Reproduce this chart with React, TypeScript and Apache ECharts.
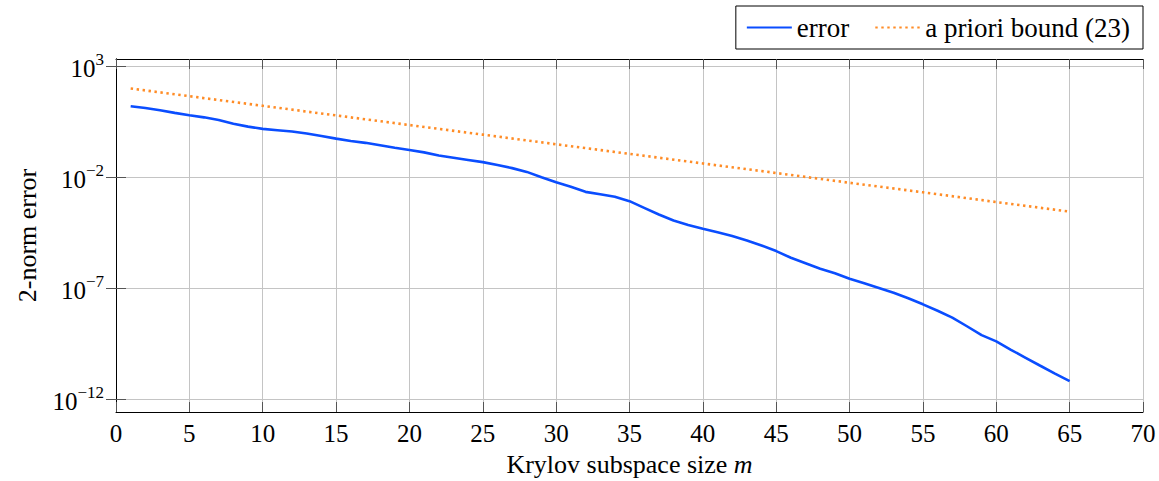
import React, { useEffect, useRef } from "react";
import * as echarts from "echarts";

// Krylov subspace size m
const errorM = [
  1, 2, 3, 4, 5, 6, 7, 8, 9, 10, 11, 12, 13, 14, 15, 16, 17, 18, 19, 20, 21, 22,
  23, 24, 25, 26, 27, 28, 29, 30, 31, 32, 33, 34, 35, 36, 37, 38, 39, 40, 41, 42,
  43, 44, 45, 46, 47, 48, 49, 50, 51, 52, 53, 54, 55, 56, 57, 58, 59, 60, 61, 62,
  63, 64, 65,
];
// 2-norm error
const errorValues = [
  15.8, 13.2, 10.5, 7.94, 6.17, 5.01, 3.8, 2.57, 1.91, 1.51, 1.32, 1.15, 0.933,
  0.724, 0.55, 0.427, 0.355, 0.275, 0.214, 0.17, 0.132, 0.0955, 0.0759, 0.0603,
  0.0479, 0.0355, 0.0257, 0.0174, 0.01, 5.89e-3, 3.72e-3, 2.19e-3, 1.7e-3,
  1.32e-3, 8.32e-4, 4.17e-4, 2.09e-4, 1.12e-4, 7.08e-5, 4.79e-5, 3.31e-5,
  2.24e-5, 1.41e-5, 8.32e-6, 4.68e-6, 2.34e-6, 1.32e-6, 7.41e-7, 4.68e-7,
  2.63e-7, 1.66e-7, 1.02e-7, 6.17e-8, 3.47e-8, 1.86e-8, 9.55e-9, 4.68e-9,
  1.91e-9, 7.59e-10, 3.98e-10, 1.66e-10, 7.24e-11, 3.16e-11, 1.41e-11, 6.46e-12,
];
// a priori bound (23)
const boundM = [1, 5, 10, 15, 20, 25, 30, 35, 40, 45, 50, 55, 60, 65];
const boundValues = [
  100, 45.0, 16.6, 6.11, 2.25, 0.832, 0.306, 0.113, 0.0417, 0.0155, 5.62e-3,
  2.09e-3, 7.59e-4, 2.82e-4,
];
const yTicks = [1e-12, 1e-7, 1e-2, 1e3];
const xMin = 0;
const xMax = 70;
const xStep = 5;
const yMin = 2.6e-13;
const yMax = 2138;

const FONT = "'Liberation Serif', 'Times New Roman', serif";
const GRID = "#c4c4c4";
const TICK = "#555555";
const BLUE = "#0a4dff";
const ORANGE = "#ff8c26";

function expLabel(v: number) {
  const e = Math.round(Math.log10(v));
  const s = e < 0 ? "\u2212" + Math.abs(e) : String(e);
  return "{b|10}{s|" + s + "}";
}

export default function App() {
  const ref = useRef<HTMLDivElement>(null);
  useEffect(() => {
    if (!ref.current) return;
    const chart = echarts.init(ref.current, null, { renderer: "svg" });
    const tickStyle = { show: true, inside: true, length: 10, lineStyle: { color: TICK, width: 1 } };
    const serif = (size: number, extra: any = {}) => ({ fontFamily: FONT, fontSize: size, color: "#000", ...extra });
    chart.setOption({
      animation: false,
      textStyle: { fontFamily: FONT },
      grid: { left: 116, right: 16, top: 59, bottom: 69, containLabel: false, outerBoundsMode: "none" },
      legend: {
        right: 16,
        top: 6,
        padding: [8, 13, 8, 10],
        borderColor: "#000",
        borderWidth: 1,
        borderRadius: 0,
        itemWidth: 45,
        itemHeight: 14,
        itemGap: 25,
        itemStyle: { opacity: 0 },
        formatter: (name: string) => "{t|" + name + "}",
        textStyle: { ...serif(27), rich: { t: serif(27) } },
        data: [
          { name: "error", itemStyle: { opacity: 0 } },
          { name: "a priori bound (23)", itemStyle: { opacity: 0 } },
        ],
      },
      xAxis: [
        {
          type: "value",
          min: xMin,
          max: xMax,
          interval: xStep,
          position: "bottom",
          name: "{r|Krylov subspace size }{i|m}",
          nameLocation: "middle",
          nameGap: 38,
          nameTextStyle: {
            ...serif(26),
            rich: {
              r: serif(26, { lineHeight: 28 }),
              i: serif(26, { fontStyle: "italic", lineHeight: 28 }),
            },
          },
          axisLine: { show: true, lineStyle: { color: "#000", width: 1 } },
          axisTick: tickStyle,
          axisLabel: { ...serif(25), margin: 9 },
          splitLine: { show: true, lineStyle: { color: GRID, width: 1 } },
        },
        {
          type: "value",
          min: xMin,
          max: xMax,
          interval: xStep,
          position: "top",
          axisLine: { show: true, lineStyle: { color: "#000", width: 1 } },
          axisTick: tickStyle,
          axisLabel: { show: false },
          splitLine: { show: false },
        },
      ],
      yAxis: [
        {
          type: "log",
          logBase: 10,
          min: yMin,
          max: yMax,
          position: "left",
          name: "{r|2-norm error}",
          nameLocation: "middle",
          nameGap: 76,
          nameTextStyle: { ...serif(26), rich: { r: serif(26) } },
          axisLine: { show: true, lineStyle: { color: "#000", width: 1 } },
          axisTick: { ...tickStyle, customValues: yTicks },
          axisLabel: {
            customValues: yTicks,
            margin: 12,
            formatter: (v: number) => expLabel(v),
            rich: {
              b: serif(25, { lineHeight: 30, verticalAlign: "bottom" }),
              s: serif(17, { lineHeight: 17, verticalAlign: "top" }),
            },
          },
          splitLine: { show: true, lineStyle: { color: GRID, width: 1 } },
        },
        {
          type: "log",
          logBase: 10,
          min: yMin,
          max: yMax,
          position: "right",
          axisLine: { show: true, lineStyle: { color: "#000", width: 1 } },
          axisTick: { ...tickStyle, customValues: yTicks },
          axisLabel: { show: false },
          splitLine: { show: false },
        },
      ],
      series: [
        {
          name: "error",
          type: "line",
          xAxisIndex: 0,
          yAxisIndex: 0,
          symbol: "none",
          smooth: false,
          lineStyle: { color: BLUE, width: 2.6 },
          itemStyle: { color: BLUE },
          data: errorM.map((m, i) => [m, errorValues[i]]),
          z: 3,
        },
        {
          name: "a priori bound (23)",
          type: "line",
          xAxisIndex: 0,
          yAxisIndex: 0,
          symbol: "none",
          lineStyle: { color: ORANGE, width: 2.6, type: [2.4, 3.6] },
          itemStyle: { color: ORANGE },
          data: boundM.map((m, i) => [m, boundValues[i]]),
          z: 3,
        },
      ],
    });
    return () => chart.dispose();
  }, []);
  return <div ref={ref} style={{ width: 1159, height: 481, position: "absolute", left: 0, top: 0 }} />;
}
